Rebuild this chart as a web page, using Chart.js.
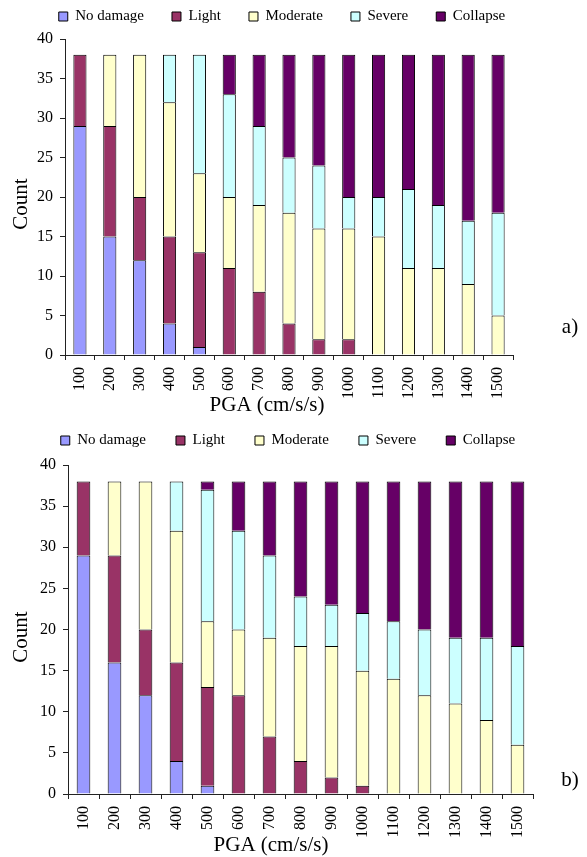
<!DOCTYPE html>
<html>
<head>
<meta charset="utf-8">
<script src="https://cdn.jsdelivr.net/npm/chart.js@4.4.1/dist/chart.umd.min.js"></script>
<style>
  html, body { margin: 0; padding: 0; background: #fff; }
  body { width: 587px; height: 857px; position: relative; overflow: hidden; }
  canvas { position: absolute; left: 0; }
  #chartA { top: -19px; }
  #chartB { top: 403px; }
</style>
</head>
<body>
<canvas id="chartA" width="587" height="439"></canvas>
<canvas id="chartB" width="587" height="454"></canvas>
<script>
// PGA levels (cm/s/s) on the x axis
const pgaLevels = ['100', '200', '300', '400', '500', '600', '700', '800',
                   '900', '1000', '1100', '1200', '1300', '1400', '1500'];

const damageStates = ['No damage', 'Light', 'Moderate', 'Severe', 'Collapse'];

// Panel a) counts per damage state
const noDamageA = [29, 15, 12, 4, 1, 0, 0, 0, 0, 0, 0, 0, 0, 0, 0];
const lightA    = [9, 14, 8, 11, 12, 11, 8, 4, 2, 2, 0, 0, 0, 0, 0];
const moderateA = [0, 9, 18, 17, 10, 9, 11, 14, 14, 14, 15, 11, 11, 9, 5];
const severeA   = [0, 0, 0, 6, 15, 13, 10, 7, 8, 4, 5, 10, 8, 8, 13];
const collapseA = [0, 0, 0, 0, 0, 5, 9, 13, 14, 18, 18, 17, 19, 21, 20];

// Panel b) counts per damage state
const noDamageB = [29, 16, 12, 4, 1, 0, 0, 0, 0, 0, 0, 0, 0, 0, 0];
const lightB    = [9, 13, 8, 12, 12, 12, 7, 4, 2, 1, 0, 0, 0, 0, 0];
const moderateB = [0, 9, 18, 16, 8, 8, 12, 14, 16, 14, 14, 12, 11, 9, 6];
const severeB   = [0, 0, 0, 6, 16, 12, 10, 6, 5, 7, 7, 8, 8, 10, 12];
const collapseB = [0, 0, 0, 0, 1, 6, 9, 14, 15, 16, 17, 18, 19, 19, 20];

const yTicks = [0, 5, 10, 15, 20, 25, 30, 35, 40];

const stateColors = ['#9999FF', '#993366', '#FFFFCC', '#CCFFFF', '#660066'];

const SERIF = "'Liberation Serif', 'Times New Roman', serif";
Chart.defaults.font.family = SERIF;
Chart.defaults.font.size = 16;
Chart.defaults.color = '#000';

// Free text (axis titles, panel letter) drawn on the canvas
const captions = {
  id: 'captions',
  afterDraw(chart, args, opts) {
    const ctx = chart.ctx;
    ctx.save();
    ctx.fillStyle = '#000';
    ctx.textAlign = 'center';
    ctx.textBaseline = 'middle';
    (opts.items || []).forEach(it => {
      ctx.save();
      ctx.font = (it.size || 21) + 'px ' + SERIF;
      ctx.translate(it.x, it.y);
      if (it.rotate) ctx.rotate(-Math.PI / 2);
      ctx.fillText(it.text, 0, 0);
      ctx.restore();
    });
    ctx.restore();
  }
};

function buildChart(canvasId, series, geom) {
  const datasets = series.map((values, i) => ({
    label: damageStates[i],
    data: values,
    backgroundColor: stateColors[i],
    borderColor: '#000',
    borderWidth: 1,
    barPercentage: 0.44,
    categoryPercentage: 1.0
  }));

  // Legend kept on one row in a fixed-height band, centred on geom.legendCenter
  const legendBand = {
    id: 'legendBand',
    beforeInit(chart) {
      if (!chart.legend) return;
      const fit = chart.legend.fit;
      chart.legend.fit = function () {
        this.maxWidth = chart.width;
        fit.call(this);
        this.height = geom.legendHeight;
      };
    },
    afterLayout(chart) {
      if (!chart.legend) return;
      chart.legend.right = chart.width;
      chart.legend.left = 2 * geom.legendCenter - chart.width;
    }
  };

  return new Chart(document.getElementById(canvasId), {
    type: 'bar',
    data: { labels: pgaLevels, datasets },
    plugins: [legendBand, captions],
    options: {
      responsive: false,
      animation: false,
      devicePixelRatio: 1,
      layout: { padding: { left: 0, right: geom.padRight, top: 0, bottom: 0 } },
      plugins: {
        tooltip: { enabled: false },
        legend: {
          position: 'top',
          labels: {
            boxWidth: 9,
            boxHeight: 9,
            padding: geom.legendGap,
            font: { size: 15 },
            color: '#000'
          }
        },
        captions: { items: geom.captions }
      },
      scales: {
        x: {
          stacked: true,
          grid: { display: true, drawOnChartArea: false, drawTicks: true, tickLength: 5, offset: true, color: '#222' },
          border: { display: true, color: '#222', width: 1 },
          ticks: { minRotation: 90, maxRotation: 90, padding: 7, autoSkip: false, font: { size: 16 }, color: '#000' },
          afterFit(scale) { scale.height = geom.xAxisHeight; }
        },
        y: {
          stacked: true,
          min: 0,
          max: 40,
          afterBuildTicks(scale) { scale.ticks = yTicks.map(v => ({ value: v })); },
          grid: { display: true, drawOnChartArea: false, drawTicks: true, tickLength: 5, color: '#222' },
          border: { display: true, color: '#222', width: 1 },
          ticks: { padding: 7, font: { size: 16 }, color: '#000' },
          afterFit(scale) { scale.width = geom.yAxisWidth; }
        }
      }
    }
  });
}

buildChart('chartA', [noDamageA, lightA, moderateA, severeA, collapseA], {
  legendHeight: 58,
  legendGap: 28,
  legendCenter: 282,
  padRight: 74,
  yAxisWidth: 65,
  xAxisHeight: 65,
  captions: [
    { text: 'PGA (cm/s/s)', x: 267, y: 424 },
    { text: 'Count', x: 21, y: 223, rotate: true },
    { text: 'a)', x: 570, y: 346 }
  ]
});

buildChart('chartB', [noDamageB, lightB, moderateB, severeB, collapseB], {
  legendHeight: 62,
  legendGap: 30,
  legendCenter: 288,
  padRight: 54,
  yAxisWidth: 68,
  xAxisHeight: 63,
  captions: [
    { text: 'PGA (cm/s/s)', x: 271, y: 442 },
    { text: 'Count', x: 21, y: 234, rotate: true },
    { text: 'b)', x: 570, y: 377 }
  ]
});
</script>
</body>
</html>
